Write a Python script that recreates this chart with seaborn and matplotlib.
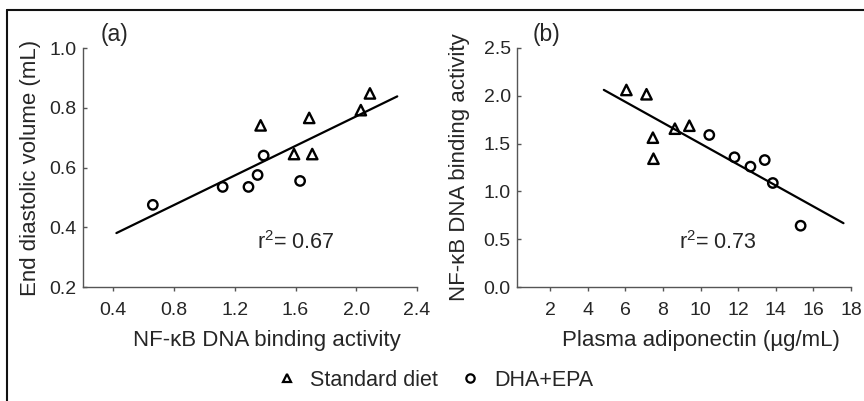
import numpy as np
import pandas as pd
import matplotlib
matplotlib.use("Agg")
import matplotlib.pyplot as plt
from matplotlib.lines import Line2D
import seaborn as sns

# ---------------- data ----------------
groups = ["Standard diet", "DHA+EPA"]

# Panel (a): NF-kB DNA binding activity vs end diastolic volume
a_std_x = [1.37, 1.69, 1.59, 1.71, 2.03, 2.09]
a_std_y = [0.741, 0.766, 0.645, 0.645, 0.792, 0.848]
a_dha_x = [0.66, 1.12, 1.29, 1.35, 1.39, 1.63]
a_dha_y = [0.475, 0.535, 0.535, 0.575, 0.640, 0.555]
a_fit_range = [0.42, 2.27]
a_r2 = "0.67"

# Panel (b): plasma adiponectin vs NF-kB DNA binding activity
b_std_x = [6.05, 7.12, 7.46, 7.49, 8.63, 9.40]
b_std_y = [2.061, 2.016, 1.562, 1.342, 1.656, 1.687]
b_dha_x = [10.46, 11.80, 12.65, 13.41, 13.84, 15.32]
b_dha_y = [1.590, 1.357, 1.259, 1.328, 1.088, 0.641]
b_fit_range = [4.85, 17.6]
b_r2 = "0.73"

a_xticks = [0.4, 0.8, 1.2, 1.6, 2.0, 2.4]
a_yticks = [0.2, 0.4, 0.6, 0.8, 1.0]
b_xticks = [2, 4, 6, 8, 10, 12, 14, 16, 18]
b_yticks = [0.0, 0.5, 1.0, 1.5, 2.0, 2.5]

# ---------------- style ----------------
sns.set_theme(style="ticks")
plt.rcParams["font.family"] = ["Liberation Sans", "DejaVu Sans"]
plt.rcParams["mathtext.fontset"] = "custom"
plt.rcParams["mathtext.rm"] = "Liberation Sans"
plt.rcParams["mathtext.it"] = "Liberation Sans"
plt.rcParams["mathtext.default"] = "regular"

W, H = 864, 401
fig = plt.figure(figsize=(W / 100, H / 100), dpi=100)
fig.patch.set_facecolor("white")

ax_a = fig.add_axes([83 / W, 1 - 287 / H, 334 / W, 239 / H])
ax_b = fig.add_axes([517 / W, 1 - 287 / H, 334 / W, 239 / H])

markers = {"Standard diet": "^", "DHA+EPA": "o"}
sizes = {"Standard diet": 56, "DHA+EPA": 46}


def panel(ax, sx, sy, dx, dy, fit_range, r2, r2pos, xlabel, ylabel,
          xlim, ylim, xticks, yticks, fmt, ylabelpad):
    df = pd.DataFrame({
        "x": list(sx) + list(dx),
        "y": list(sy) + list(dy),
        "group": [groups[0]] * len(sx) + [groups[1]] * len(dx),
    })
    for g in groups:
        sub = df[df["group"] == g]
        sns.scatterplot(data=sub, x="x", y="y", marker=markers[g], s=sizes[g],
                        facecolor="none", edgecolor="black", linewidth=1.7,
                        ax=ax, zorder=3, label=g)
    # regression line from the data
    slope, icpt = np.polyfit(df["x"], df["y"], 1)
    fx = np.array(fit_range)
    sns.lineplot(x=fx, y=slope * fx + icpt, color="black", linewidth=1.6,
                 ax=ax, zorder=2)
    ax.get_legend().remove()
    ax.set_xlim(*xlim)
    ax.set_ylim(*ylim)
    ax.set_xticks(xticks)
    ax.set_yticks(yticks)
    ax.set_xticklabels([fmt[0].format(v) for v in xticks])
    ax.set_yticklabels([fmt[1].format(v) for v in yticks])
    ax.set_xlabel(xlabel, fontsize=16, labelpad=8)
    ax.set_ylabel(ylabel, fontsize=16, labelpad=ylabelpad)
    ax.xaxis.label.set_x(0.55)
    for side in ["top", "right"]:
        ax.spines[side].set_visible(False)
    for side in ["left", "bottom"]:
        ax.spines[side].set_color("#555555")
        ax.spines[side].set_linewidth(1.0)
    ax.tick_params(axis="x", direction="out", length=3, width=1,
                   color="#555555", labelsize=14, pad=7.5)
    ax.tick_params(axis="y", direction="in", length=3, width=1,
                   color="#555555", labelsize=14, pad=4.5)
    ax.text(r2pos[0], r2pos[1], "r$^{2}$= " + r2, fontsize=15.5,
            ha="center", va="center")


panel(ax_a, a_std_x, a_std_y, a_dha_x, a_dha_y, a_fit_range, a_r2, (1.60, 0.35),
      "NF-κB DNA binding activity", "End diastolic volume (mL)",
      (0.2, 2.4), (0.2, 1.0), a_xticks, a_yticks, ("{:.1f}", "{:.1f}"), 6)
panel(ax_b, b_std_x, b_std_y, b_dha_x, b_dha_y, b_fit_range, b_r2, (10.9, 0.47),
      "Plasma adiponectin (µg/mL)", "NF-κB DNA binding activity",
      (0.23, 18.0), (0.0, 2.5), b_xticks, b_yticks, ("{:d}", "{:.1f}"), 10)

fig.text(114 / W, 1 - 35 / H, "(a)", fontsize=16.5, ha="center", va="center")
fig.text(546 / W, 1 - 35 / H, "(b)", fontsize=16.5, ha="center", va="center")

# legend
handles = [Line2D([], [], linestyle="none", marker=markers[g], markersize=6,
                  markerfacecolor="none", markeredgecolor="black",
                  markeredgewidth=1.6) for g in groups]
fig.legend(handles, groups, loc="center", bbox_to_anchor=(0.503, 1 - 380 / H),
           ncol=2, frameon=False, fontsize=15.5, handlelength=1.0,
           handletextpad=0.6, columnspacing=1.0)

# outer frame (top and left)
fig.add_artist(Line2D([7 / W, 1.0], [1 - 10 / H, 1 - 10 / H],
                      transform=fig.transFigure, color="#111111", linewidth=1.5))
fig.add_artist(Line2D([7 / W, 7 / W], [0.0, 1 - 10 / H],
                      transform=fig.transFigure, color="#111111", linewidth=1.5))

fig.savefig("out.png", dpi=100, facecolor="white")
